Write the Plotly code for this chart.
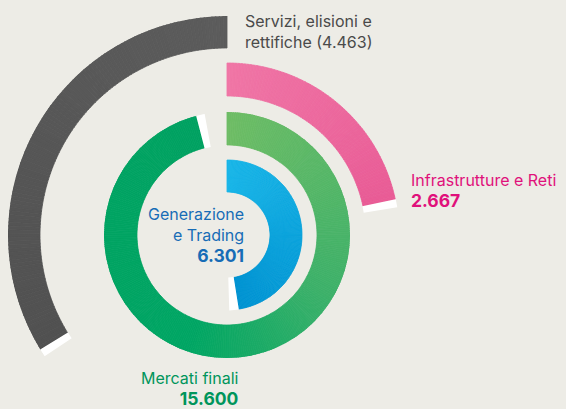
import math
import plotly.graph_objects as go

# ---------------- data ----------------
segments = ["Generazione e Trading", "Mercati finali", "Infrastrutture e Reti",
            "Servizi, elisioni e rettifiche"]
values = [6301, 15600, 2667, -4463]            # milioni di euro
arc_sweep_deg = [171.0, 345.5, 78.0, -121.5]   # arc swept, clockwise from 12 o'clock
name_lines = [["Generazione", "e Trading"], ["Mercati finali"],
              ["Infrastrutture e Reti"], ["Servizi, elisioni e", "rettifiche"]]

# ---------------- styling / layout ----------------
W, H = 566, 409
BG = "#edece6"
CX, CY = 227, 235                     # centre of the rings in px
RINGS = [(43, 75), (90, 123), (139, 172), (187, 219)]   # inner/outer radius in px
CAP_PX = 7.5
SUBPLOT = ["polar", "polar", "polar2", "polar2"]
GRADIENTS = [
    [(0.0, "#19b6e8"), (1.0, "#0093d2")],
    [(0.0, "#6fbd66"), (0.35, "#3db16a"), (0.58, "#00a664"), (1.0, "#00a262")],
    [(0.0, "#f076a6"), (1.0, "#e95c96")],
    [(0.0, "#5c5c5c"), (1.0, "#515151")],
]
TEXT_COLORS = ["#176cb6", "#00955b", "#e0117b", "#4a4a4a"]
LABELS = [
    dict(x=244, xanchor="right", first_baseline=220),
    dict(x=238, xanchor="right", first_baseline=384),
    dict(x=411, xanchor="left", first_baseline=186),
    dict(x=245, xanchor="left", first_baseline=27),
]
FONT = "Inter"
FS, FS_B = 16, 17.5
ASCENT = 0.969   # Inter ascent (em)


def hex2rgb(h):
    h = h.lstrip("#")
    return [int(h[i:i + 2], 16) for i in (0, 2, 4)]


def interp(stops, t):
    for (t0, c0), (t1, c1) in zip(stops[:-1], stops[1:]):
        if t <= t1:
            f = 0 if t1 == t0 else (t - t0) / (t1 - t0)
            a, b = hex2rgb(c0), hex2rgb(c1)
            return "rgb(%d,%d,%d)" % tuple(round(a[i] + (b[i] - a[i]) * f) for i in range(3))
    return stops[-1][1]


def fmt(v):
    return f"{abs(v):,}".replace(",", ".")


def sector_bbox(s0, s1):
    arc = s1 - s0
    a0 = s0 % 360
    a1 = a0 + arc
    ax0, ay0 = math.cos(math.radians(a0)), math.sin(math.radians(a0))
    ax1, ay1 = math.cos(math.radians(a1)), math.sin(math.radians(a1))
    if (a0 <= 90 and a1 >= 90) or (a0 > 90 and a1 >= 450):
        y1 = 1
    elif ay0 <= 0 and ay1 <= 0:
        y1 = 0
    else:
        y1 = max(ay0, ay1)
    if (a0 <= 180 and a1 >= 180) or (a0 > 180 and a1 >= 540):
        x0 = -1
    elif ax0 >= 0 and ax1 >= 0:
        x0 = 0
    else:
        x0 = min(ax0, ax1)
    if (a0 <= 270 and a1 >= 270) or (a0 > 270 and a1 >= 630):
        y0 = -1
    elif ay0 >= 0 and ay1 >= 0:
        y0 = 0
    else:
        y0 = min(ay0, ay1)
    if a1 >= 360:
        x1 = 1
    elif ax0 <= 0 and ax1 <= 0:
        x1 = 0
    else:
        x1 = max(ax0, ax1)
    return x0, y0, x1, y1


def domain_for(sector, R):
    x0, y0, x1, y1 = sector_bbox(*sector)
    left, right = CX + R * x0, CX + R * x1
    top, bottom = CY - R * y1, CY - R * y0
    return dict(x=[left / W, right / W], y=[1 - bottom / H, 1 - top / H])


fig = go.Figure()

for i, (seg, v, sweep) in enumerate(zip(segments, values, arc_sweep_deg)):
    r0, r1 = RINGS[i]
    n = max(2, int(round(abs(sweep) / 1.0)))
    step = sweep / n
    thetas, widths, cols = [], [], []
    for k in range(n):
        thetas.append((k + 0.5) * step)
        widths.append(abs(step) * 1.02)
        cols.append(interp(GRADIENTS[i], (k + 0.5) / n))
    fig.add_trace(go.Barpolar(
        r=[r1 - r0] * n, base=[r0] * n, theta=thetas, width=widths,
        marker=dict(color=cols, line=dict(color=cols, width=0.8)),
        subplot=SUBPLOT[i], hoverinfo="skip", name=seg, showlegend=False))
    # white end cap
    cap = math.degrees(CAP_PX / ((r0 + r1) / 2))
    sgn = 1 if sweep > 0 else -1
    fig.add_trace(go.Barpolar(
        r=[r1 - r0 + 1], base=[r0 - 0.5], theta=[sweep + sgn * cap / 2], width=[cap],
        marker=dict(color="white", line=dict(width=0)),
        subplot=SUBPLOT[i], hoverinfo="skip", showlegend=False))

    # label: one annotation, lines joined with <br>
    lab = LABELS[i]
    lines = list(name_lines[i])
    if v < 0:
        lines[-1] = lines[-1] + " (" + fmt(v) + ")"
    else:
        lines.append("<b><span style='font-size:%gpx'>%s</span></b>" % (FS_B, fmt(v)))
    y_top = lab["first_baseline"] - ASCENT * FS
    fig.add_annotation(
        x=lab["x"] / W, y=1 - y_top / H, xref="paper", yref="paper",
        xanchor=lab["xanchor"], yanchor="top", align=lab["xanchor"], showarrow=False,
        borderpad=0, borderwidth=0, text="<br>".join(lines),
        font=dict(family=FONT, size=FS, color=TEXT_COLORS[i]))

hidden_axes = dict(
    radialaxis=dict(visible=False, showgrid=False, showline=False, showticklabels=False, ticks=""),
    angularaxis=dict(visible=False, rotation=90, direction="clockwise", showgrid=False,
                     showline=False, showticklabels=False, ticks=""),
    bgcolor="rgba(0,0,0,0)", barmode="overlay",
)
inner_R = RINGS[1][1]
outer_R = RINGS[3][1]
sector2 = [3, 218]
p1 = dict(hidden_axes, domain=domain_for([0, 360], inner_R))
p1["radialaxis"] = dict(hidden_axes["radialaxis"], range=[0, inner_R])
p2 = dict(hidden_axes, domain=domain_for(sector2, outer_R), sector=sector2)
p2["radialaxis"] = dict(hidden_axes["radialaxis"], range=[0, outer_R])

fig.update_layout(
    width=W, height=H, margin=dict(l=0, r=0, t=0, b=0, pad=0),
    paper_bgcolor=BG, plot_bgcolor=BG, showlegend=False,
    polar=p1, polar2=p2,
)

fig.write_html(
    "out.html",
    config={"displayModeBar": False},
    post_script="document.body.style.margin='0';document.body.style.overflow='hidden';"
                "document.documentElement.style.background='%s';" % BG,
)
